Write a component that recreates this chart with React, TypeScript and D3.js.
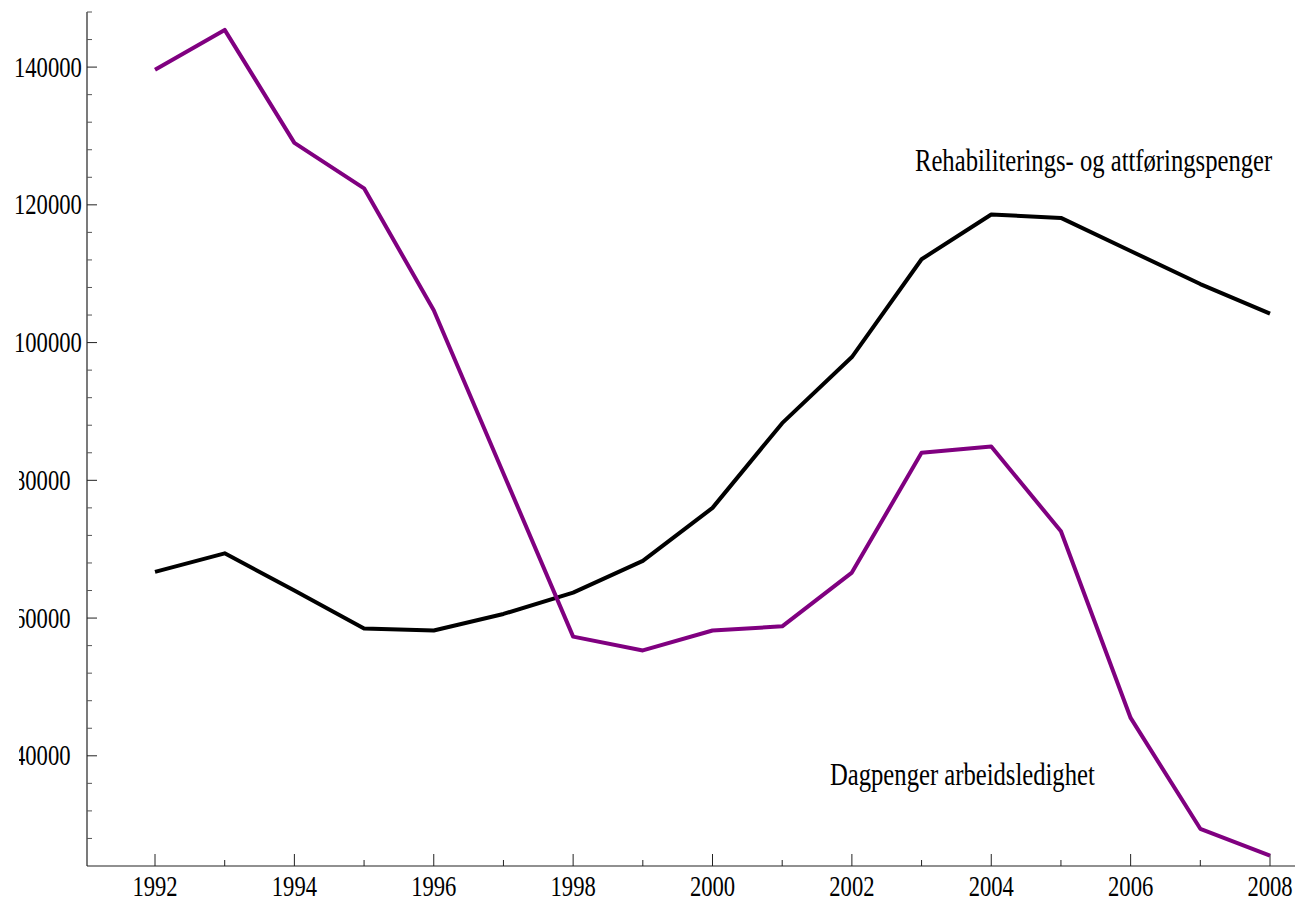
import React, { useRef, useEffect } from 'react';
import * as d3 from 'd3';

const years = [1992, 1993, 1994, 1995, 1996, 1997, 1998, 1999, 2000, 2001, 2002, 2003, 2004, 2005, 2006, 2007, 2008];

// Rehabiliterings- og attføringspenger
const rehab = [66700, 69400, 64000, 58500, 58200, 60600, 63700, 68300, 76000, 88300, 97900, 112100, 118600, 118100, 113300, 108500, 104200];

// Dagpenger arbeidsledighet
const dagpenger = [139600, 145400, 129000, 122400, 104700, 81000, 57300, 55300, 58200, 58800, 66600, 84000, 84900, 72600, 45500, 29400, 25500];

const yMajor = [40000, 60000, 80000, 100000, 120000, 140000];
const xMajor = [1992, 1994, 1996, 1998, 2000, 2002, 2004, 2006, 2008];

const W = 1295;
const H = 902;
const FONT = '"Liberation Serif", "Times New Roman", serif';
const PURPLE = '#800080';

const App = () => {
  const ref = useRef<SVGSVGElement>(null);

  useEffect(() => {
    const svg = d3.select(ref.current);
    svg.selectAll('*').remove();

    const axisX = 87;
    const axisY = 866;

    const x = d3.scaleLinear().domain([1992, 2008]).range([155, 1270]);
    const y = d3.scaleLinear().domain([24000, 148000]).range([axisY, 12]);

    svg.append('rect').attr('width', W).attr('height', H).attr('fill', 'white');

    svg.append('defs').append('clipPath').attr('id', 'lblclip')
      .append('rect').attr('x', 19).attr('y', 0).attr('width', 80).attr('height', H);

    // axes
    svg.append('line')
      .attr('x1', axisX).attr('x2', axisX).attr('y1', 12).attr('y2', axisY)
      .attr('stroke', '#222').attr('stroke-width', 1.2);
    svg.append('line')
      .attr('x1', axisX).attr('x2', W).attr('y1', axisY).attr('y2', axisY)
      .attr('stroke', '#222').attr('stroke-width', 1.2);

    // y ticks, minor every 4000
    const yTicks = d3.range(28000, 148001, 4000);
    svg.append('g').selectAll('line')
      .data(yTicks)
      .enter().append('line')
      .attr('x1', axisX)
      .attr('x2', d => axisX + (yMajor.includes(d) ? 10 : 5))
      .attr('y1', d => y(d)).attr('y2', d => y(d))
      .attr('stroke', d => yMajor.includes(d) ? '#222' : '#555')
      .attr('stroke-width', 1);

    // y labels; the 5-digit ones get their first digit cut, like the original
    yMajor.forEach(v => {
      const g = svg.append('g');
      if (v < 100000) g.attr('clip-path', 'url(#lblclip)');
      g.append('text')
        .attr('transform', `translate(14,${y(v) + 9.5}) scale(0.78,1)`)
        .attr('font-family', FONT)
        .attr('font-size', 29)
        .attr('fill', 'black')
        .text(String(v));
    });

    // x ticks
    const xTicks = d3.range(1992, 2009, 1);
    svg.append('g').selectAll('line')
      .data(xTicks)
      .enter().append('line')
      .attr('x1', d => x(d)).attr('x2', d => x(d))
      .attr('y1', axisY)
      .attr('y2', d => axisY - (xMajor.includes(d) ? 12 : 6))
      .attr('stroke', '#222')
      .attr('stroke-width', 1);

    svg.append('g').selectAll('text')
      .data(xMajor)
      .enter().append('text')
      .attr('transform', d => `translate(${x(d)},896) scale(0.78,1)`)
      .attr('text-anchor', 'middle')
      .attr('font-family', FONT)
      .attr('font-size', 29)
      .attr('fill', 'black')
      .text(d => String(d));

    const line = d3.line<number>()
      .x((_, i) => x(years[i]))
      .y(d => y(d));

    svg.append('path')
      .datum(rehab)
      .attr('d', line)
      .attr('fill', 'none')
      .attr('stroke', 'black')
      .attr('stroke-width', 4)
      .attr('stroke-linejoin', 'round');

    svg.append('path')
      .datum(dagpenger)
      .attr('d', line)
      .attr('fill', 'none')
      .attr('stroke', PURPLE)
      .attr('stroke-width', 4)
      .attr('stroke-linejoin', 'round');

    // series labels
    svg.append('text')
      .attr('transform', 'translate(915,171) scale(0.78,1)')
      .attr('font-family', FONT)
      .attr('font-size', 31.6)
      .attr('fill', 'black')
      .text('Rehabiliterings- og attføringspenger');

    svg.append('text')
      .attr('transform', 'translate(830,785) scale(0.78,1)')
      .attr('font-family', FONT)
      .attr('font-size', 31.6)
      .attr('fill', 'black')
      .text('Dagpenger arbeidsledighet');
  }, []);

  return (
    <div style={{ position: 'absolute', left: 0, top: 0 }}>
      <svg ref={ref} width={W} height={H} style={{ display: 'block' }}></svg>
    </div>
  );
};

export default App;
